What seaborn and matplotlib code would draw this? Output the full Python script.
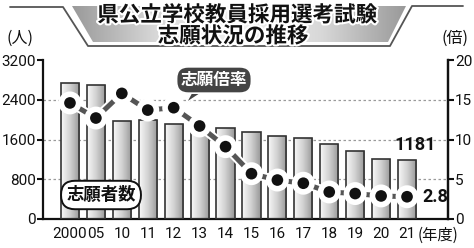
import numpy as np
import pandas as pd
import matplotlib
matplotlib.use("Agg")
import matplotlib.pyplot as plt
import matplotlib.patheffects as pe
from matplotlib.patches import Polygon
from matplotlib.colors import LinearSegmentedColormap
import seaborn as sns

# ---- data ----
years = ["2000", "05", "10", "11", "12", "13", "14", "15", "16", "17", "18", "19", "20", "21"]
applicants = [2730, 2700, 1970, 1990, 1910, 1830, 1830, 1760, 1680, 1640, 1500, 1370, 1210, 1181]
ratio = [14.6, 12.7, 15.8, 13.7, 14.0, 11.7, 9.1, 5.7, 4.9, 4.5, 3.4, 3.2, 2.9, 2.8]
left_ticks = [0, 800, 1600, 2400, 3200]
right_ticks = [0, 5, 10, 15, 20]
title_lines = ["県公立学校教員採用選考試験", "志願状況の推移"]

df = pd.DataFrame({"year": years, "applicants": applicants, "ratio": ratio})

sns.set_theme(style="white")
NUM = ["Roboto", "DejaVu Sans"]
CJK = ["Noto Sans CJK JP", "DejaVu Sans"]
plt.rcParams["font.family"] = NUM

W, H = 474, 248
fig = plt.figure(figsize=(W / 100, H / 100), dpi=100)
fig.patch.set_facecolor("white")

def fpx(x, y):
    return (x / W, 1 - y / H)

L, R, T, B = 43, 448, 60, 219
ax = fig.add_axes([L / W, 1 - B / H, (R - L) / W, (B - T) / H])
ax.set_facecolor("none")

sns.barplot(data=df, x="year", y="applicants", order=years, width=0.7,
            color="#cccccc", edgecolor="#333333", linewidth=1.2, ax=ax, zorder=3)

# gradient fill for bars
cmap = LinearSegmentedColormap.from_list("g", ["#f8f8f8", "#d0d0d0", "#989898"])
grad = np.linspace(0, 1, 64).reshape(1, -1)
for p in list(ax.patches):
    p.set_facecolor("none")
    bb = p.get_bbox()
    im = ax.imshow(grad, extent=[bb.x0, bb.x1, bb.y0, bb.y1], aspect="auto",
                   cmap=cmap, zorder=2.5, interpolation="bicubic")
    im.set_clip_path(p)

xlim = (-1.04, 14.58)
ax.set_xlim(*xlim)
ax.set_ylim(0, 3200)
ax.set_yticks(left_ticks)
ax.set_yticklabels([str(v) for v in left_ticks])
ax.hlines(left_ticks[1:-1], *xlim, colors="#9a9a9a", linestyles=(0, (2, 2)),
          linewidth=0.9, zorder=1)
ax.set_xlabel("")
ax.set_ylabel("")
for s in ["left", "bottom", "right"]:
    ax.spines[s].set_linewidth(1.6)
    ax.spines[s].set_color("#111111")
ax.spines["top"].set_visible(False)
ax.tick_params(axis="y", direction="out", length=4, width=1.5, color="#111111",
               labelsize=11, pad=1, labelcolor="#111111")
ax.tick_params(axis="x", length=0, labelsize=11, pad=6, labelcolor="#111111")

ax2 = ax.twinx()
sns.lineplot(data=df, x="year", y="ratio", ax=ax2, color="#555555", linewidth=3.6,
             marker="o", markersize=10, markerfacecolor="#111111",
             markeredgecolor="white", markeredgewidth=1.6, zorder=5,
             path_effects=[pe.Stroke(linewidth=6.5, foreground="white"), pe.Normal()])
ax2.set_xlim(*xlim)
ax2.set_ylim(0, 20)
ax2.set_yticks(right_ticks)
ax2.set_yticklabels([str(v) for v in right_ticks])
ax2.set_ylabel("")
ax2.set_xlabel("")
for s in ["top", "left", "bottom"]:
    ax2.spines[s].set_visible(False)
ax2.spines["right"].set_linewidth(1.6)
ax2.spines["right"].set_color("#111111")
ax2.tick_params(axis="y", direction="out", length=4, width=1.5, color="#111111",
                labelsize=11, pad=1, labelcolor="#111111")
ax.set_xlim(*xlim)

# value annotations
ax.annotate(str(applicants[-1]), xy=(len(years) - 1, applicants[-1]), xytext=(6, 11),
            textcoords="offset points", ha="center", va="center", fontsize=13,
            fontweight="bold", color="#111111", zorder=6)
ax2.annotate(str(ratio[-1]), xy=(len(years) - 1, ratio[-1]), xytext=(11, 0),
             textcoords="offset points", ha="left", va="center", fontsize=13,
             fontweight="bold", color="#111111", zorder=6)

# callout labels
def apx(x, y):
    return ((x - L) / (R - L), (B - y) / (B - T))

tri = Polygon([apx(193, 90), apx(206, 90), apx(186, 103)], closed=True,
              transform=ax2.transAxes, fc="#444444", ec="white", lw=1.0, zorder=7,
              clip_on=False)
ax2.add_patch(tri)
ax2.text(*apx(214, 80), "志願倍率", transform=ax2.transAxes, ha="center", va="center",
         fontsize=12, fontweight="bold", color="white", family=CJK, zorder=8,
         bbox=dict(boxstyle="round,pad=0.25,rounding_size=0.7", fc="#444444",
                   ec="white", lw=1.2))
ax2.text(*apx(101, 195), "志願者数", transform=ax2.transAxes, ha="center", va="center",
         fontsize=12.5, fontweight="bold", color="#111111", family=CJK, zorder=8,
         bbox=dict(boxstyle="round,pad=0.3,rounding_size=0.8", fc="white",
                   ec="#111111", lw=1.4))

# unit labels
fig.text(*fpx(20, 38), "(人)", ha="center", va="center", fontsize=11.5, family=CJK,
         color="#111111")
fig.text(*fpx(455, 38), "(倍)", ha="center", va="center", fontsize=11.5, family=CJK,
         color="#111111")
fig.text(*fpx(418, 235), "(年度)", ha="left", va="center", fontsize=11, family=CJK,
         color="#111111")

# title banner
bg = fig.add_axes([0, 0, 1, 1], zorder=-1)
bg.set_axis_off()
bg.set_xlim(0, W)
bg.set_ylim(H, 0)
bcmap = LinearSegmentedColormap.from_list("b", ["#9a9a9a", "#d8d8d8", "#f2f2f2", "#d8d8d8", "#9a9a9a"])
bim = bg.imshow(np.linspace(0, 1, 128).reshape(1, -1), extent=[72, 406, 42, 6],
                aspect="auto", cmap=bcmap, interpolation="bicubic")
bpoly = Polygon([(72, 6), (406, 6), (388, 42), (93, 42)], closed=True,
                transform=bg.transData, fc="none", ec="none")
bg.add_patch(bpoly)
bim.set_clip_path(bpoly)
bg.plot([10, 63, 88, 390, 412, 463], [7, 7, 46, 46, 6, 6], color="#555555", lw=1.3)
bg.set_xlim(0, W)
bg.set_ylim(H, 0)

stroke = [pe.withStroke(linewidth=3, foreground="white")]
fig.text(*fpx(237, 15), title_lines[0], ha="center", va="center", fontsize=15.5,
         fontweight="bold", family=CJK, color="#111111", path_effects=stroke)
fig.text(*fpx(233, 36), title_lines[1], ha="center", va="center", fontsize=15.5,
         fontweight="bold", family=CJK, color="#111111", path_effects=stroke)

fig.savefig("out.png", dpi=100, facecolor="white")
